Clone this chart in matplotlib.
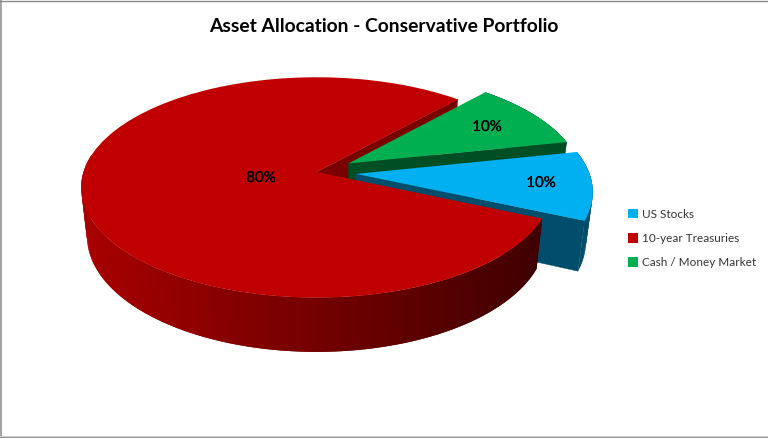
import numpy as np
import matplotlib
matplotlib.use("Agg")
import matplotlib.pyplot as plt
import matplotlib.patheffects as pe
from matplotlib.path import Path
from matplotlib.patches import Polygon
from matplotlib.transforms import Transform
from matplotlib.colors import to_rgb

categories = ["US Stocks", "10-year Treasuries", "Cash / Money Market"]
values = [10, 80, 10]
explode = [0.17, 0, 0.16]
top_colors = ["#00B0F0", "#C00000", "#00B050"]
cut_colors = ["#004E6B", "#7A0000", "#004E23"]
title = "Asset Allocation - Conservative Portfolio"

CX, CY, R, KR, P = 316.5, 172.0, 233.0, 108.0, 0.14
SX, SY, DY = 0.975, 1.05, 48.0


def project(u, v, low=False):
    u, v = np.asarray(u, float), np.asarray(v, float)
    f = 1.0 / (1.0 + P * v)
    x, y = R * u * f, KR * v * f
    if low:
        return CX + SX * x, CY + DY - SY * y
    return CX + x, CY - y


class Disc(Transform):
    input_dims = output_dims = 2

    def transform_non_affine(self, xy):
        return np.column_stack(project(xy[:, 0], xy[:, 1]))

    def transform_path_non_affine(self, path):
        return Path(self.transform_non_affine(path.vertices), path.codes)


plt.rcParams["font.family"] = ["Lato", "DejaVu Sans"]
fig = plt.figure(figsize=(7.68, 4.38), dpi=100)
ax = fig.add_axes([0, 0, 1, 1])
wedges, _, autotexts = ax.pie(values, explode=explode, colors=top_colors,
                              startangle=12, counterclock=False,
                              autopct="%d%%", radius=1, frame=False,
                              wedgeprops=dict(linewidth=0))
ax.set_aspect("auto")
ax.set_xlim(0, 768)
ax.set_ylim(438, 0)
ax.axis("off")
disc = Disc() + ax.transData


def cut_face(w, deg, color, z):
    cx, cy = w.center
    theta = np.radians(deg)
    us = np.array([cx, cx + np.cos(theta)])
    vs = np.array([cy, cy + np.sin(theta)])
    xt, yt = project(us, vs)
    xb, yb = project(us, vs, low=True)
    pts = np.column_stack([np.r_[xt, xb[::-1]], np.r_[yt, yb[::-1]]])
    ax.add_patch(Polygon(pts, closed=True, fc=color, ec=color, lw=0.3, zorder=z))


def outer_wall(w, color_fn, z, lo=None):
    # strips overlap the next one, so no antialiasing seams show
    cx, cy = w.center
    a = w.theta1 if lo is None else max(lo, w.theta1)
    b = w.theta2
    th = np.radians(np.linspace(a, b, max(3, int((b - a) / 1.0)) + 1))
    u, v = cx + np.cos(th), cy + np.sin(th)
    xt, yt = project(u, v)
    xb, yb = project(u, v, low=True)
    for i in range(len(th) - 1):
        j = min(i + 2, len(th) - 1)
        pts = np.column_stack([np.r_[xt[i:j + 1], xb[i:j + 1][::-1]],
                               np.r_[yt[i:j + 1], yb[i:j + 1][::-1]]])
        c = color_fn(xt[i])
        ax.add_patch(Polygon(pts, closed=True, fc=c, ec="none", lw=0, zorder=z))


def red_shade(x):
    t = np.clip((x - 80) / (540 - 80), 0, 1)
    a, b = np.array(to_rgb("#A80000")), np.array(to_rgb("#400000"))
    return tuple(a + (b - a) * t)


blue, red, green = wedges
# back to front: red upper cut, green, blue, then the large red slice
cut_face(red, green.theta2, cut_colors[1], 1)
cut_face(green, green.theta1, cut_colors[2], 2)
outer_wall(green, lambda x: cut_colors[2], 2)
green.set_zorder(3)
cut_face(blue, blue.theta1, cut_colors[0], 4)
outer_wall(blue, lambda x: cut_colors[0], 4)
blue.set_zorder(5)
# only the front of the big slice's rim is visible (angles run from -312 to -24)
outer_wall(red, red_shade, 6, lo=-190)
red.set_zorder(7)
for w in wedges:
    w.set_transform(disc)

label_xy = [(541, 183), (261, 178), (487, 127)]
for t, (x, y) in zip(autotexts, label_xy):
    t.set_position((x, y))
    t.set_ha("center")
    t.set_va("center")
    t.set_fontsize(10.8)
    t.set_color("black")
    t.set_zorder(9)
    t.set_path_effects([pe.withStroke(linewidth=0.2, foreground="black")])

ax.text(384, 26, title, ha="center", va="center", fontsize=13.9,
        fontweight="bold", color="black")

fig.legend(wedges, categories, loc="upper left",
           bbox_to_anchor=(617 / 768, 1 - 198 / 438), frameon=False,
           fontsize=8.45, handlelength=0.9, handleheight=0.9,
           handletextpad=0.3, labelspacing=1.12, borderpad=0.4,
           labelcolor="#333333")

# chart-area frame: each side has its own weight in the reference
ax.plot([0, 768], [0.5, 0.5], color="#8A8A8A", lw=1.0, zorder=10)
ax.plot([0.7, 0.7], [0, 438], color="#8A8A8A", lw=1.1, zorder=10)
ax.plot([767.5, 767.5], [0, 438], color="#C8C8C8", lw=0.7, zorder=10)
ax.plot([0, 768], [437.2, 437.2], color="#808080", lw=1.2, zorder=10)
ax.plot([0, 768], [436, 436], color="#D0D0D0", lw=0.7, zorder=10)
ax.set_xlim(0, 768)
ax.set_ylim(438, 0)
fig.savefig("out.png", dpi=100)
